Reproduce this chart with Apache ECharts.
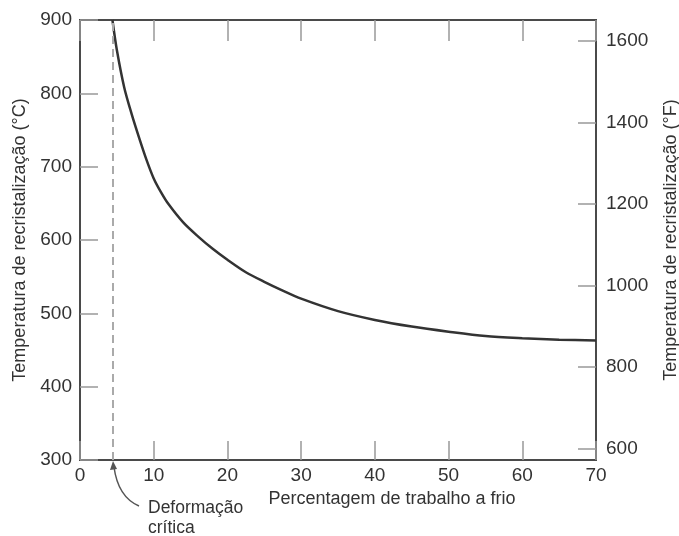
<!DOCTYPE html>
<html>
<head>
<meta charset="utf-8">
<script src="https://cdn.jsdelivr.net/npm/echarts@6/dist/echarts.min.js"></script>
<style>html,body{margin:0;padding:0;background:#fff}#c{width:679px;height:536px}</style>
</head>
<body>
<div id="c"></div>
<script>
// Data
const coldWork = [4.4, 5, 6, 7, 8, 9, 10, 11, 12, 14, 16, 18, 20, 22.5, 25, 27.5, 30, 35, 40, 45, 50, 55, 60, 65, 70];
const recrystTempC = [900, 859, 808, 772, 740, 710, 684, 665, 649, 624, 605, 588, 573, 556, 543, 531, 520, 503, 491, 482, 475, 469, 466, 464, 463];
const criticalDeformation = 4.4;
const xTicks = [0, 10, 20, 30, 40, 50, 60, 70];
const cTicks = [300, 400, 500, 600, 700, 800, 900];
const fTicks = [600, 800, 1000, 1200, 1400, 1600];
const xTitle = 'Percentagem de trabalho a frio';
const yTitleC = 'Temperatura de recristalização (°C)';
const yTitleF = 'Temperatura de recristalização (°F)';
const annotLines = ['Deformação', 'crítica'];

const toF = c => c * 9 / 5 + 32;
const FONT = 'Liberation Sans';
const txt = '#333';
const axisCol = '#4a4a4a';
const tickCol = '#999';
const xMin = xTicks[0], xMax = xTicks[xTicks.length - 1];

const chart = echarts.init(document.getElementById('c'));
chart.setOption({
  animation: false,
  backgroundColor: '#fff',
  textStyle: { fontFamily: FONT },
  grid: { left: 80, right: 83, top: 20, bottom: 76, containLabel: false, outerBoundsMode: 'none',
          show: true, borderColor: axisCol, borderWidth: 2, backgroundColor: 'transparent' },
  xAxis: [{
    type: 'value', min: xMin, max: xMax, interval: 10,
    position: 'bottom',
    axisLine: { show: true, onZero: false, lineStyle: { color: axisCol, width: 2 } },
    axisTick: { show: true, inside: true, length: 19, lineStyle: { color: tickCol, width: 1.5 } },
    axisLabel: { color: txt, fontSize: 19, margin: 6, fontFamily: FONT },
    splitLine: { show: false },
    name: xTitle, nameLocation: 'middle', nameGap: 28,
    nameTextStyle: { color: txt, fontSize: 18, fontFamily: FONT, padding: [0, 0, 0, 108] }
  }, {
    type: 'value', min: xMin, max: xMax, interval: 10,
    position: 'top',
    axisLine: { show: true, onZero: false, lineStyle: { color: axisCol, width: 2 } },
    axisTick: { show: true, inside: true, length: 21, lineStyle: { color: tickCol, width: 1.5 } },
    axisLabel: { show: false },
    splitLine: { show: false }
  }],
  yAxis: [{
    type: 'value', min: cTicks[0], max: cTicks[cTicks.length - 1], interval: 100,
    position: 'left',
    axisLine: { show: true, onZero: false, lineStyle: { color: axisCol, width: 2 } },
    axisTick: { show: true, inside: true, length: 18, lineStyle: { color: tickCol, width: 1.5 } },
    axisLabel: { color: txt, fontSize: 19, margin: 8, fontFamily: FONT },
    splitLine: { show: false },
    name: yTitleC, nameLocation: 'middle', nameGap: 50, nameRotate: 90,
    nameTextStyle: { color: txt, fontSize: 18, fontFamily: FONT }
  }, {
    type: 'value', min: toF(cTicks[0]), max: toF(cTicks[cTicks.length - 1]),
    position: 'right',
    axisLine: { show: true, onZero: false, lineStyle: { color: axisCol, width: 2 } },
    axisTick: { show: true, inside: true, length: 18, customValues: fTicks, lineStyle: { color: tickCol, width: 1.5 } },
    axisLabel: { color: txt, fontSize: 19, margin: 10, fontFamily: FONT, customValues: fTicks, formatter: v => String(v) },
    splitLine: { show: false },
    name: yTitleF, nameLocation: 'middle', nameGap: 66, nameRotate: 90,
    nameTextStyle: { color: txt, fontSize: 18, fontFamily: FONT }
  }],
  series: [{
    type: 'line',
    xAxisIndex: 0, yAxisIndex: 0,
    data: coldWork.map((x, i) => [x, recrystTempC[i]]),
    smooth: 0.3,
    showSymbol: false,
    lineStyle: { color: '#333', width: 2.5 },
    markLine: {
      silent: true, symbol: 'none', label: { show: false },
      lineStyle: { color: '#aaa', type: [8, 5], width: 2 },
      data: [[{ coord: [criticalDeformation, cTicks[0]] }, { coord: [criticalDeformation, cTicks[cTicks.length - 1]] }]]
    }
  }],
  graphic: [
    { type: 'bezierCurve', shape: { x1: 139, y1: 506, x2: 114, y2: 467, cpx1: 118, cpy1: 497 },
      style: { stroke: '#555', lineWidth: 1.5, fill: null } },
    { type: 'polygon', shape: { points: [[113, 461], [110, 470], [117, 469]] }, style: { fill: '#555' } },
    { type: 'text', left: 148, top: 499, style: { text: annotLines[0], fill: txt, font: '17.5px "Liberation Sans"' } },
    { type: 'text', left: 148, top: 519, style: { text: annotLines[1], fill: txt, font: '17.5px "Liberation Sans"' } }
  ]
});
</script>
</body>
</html>
